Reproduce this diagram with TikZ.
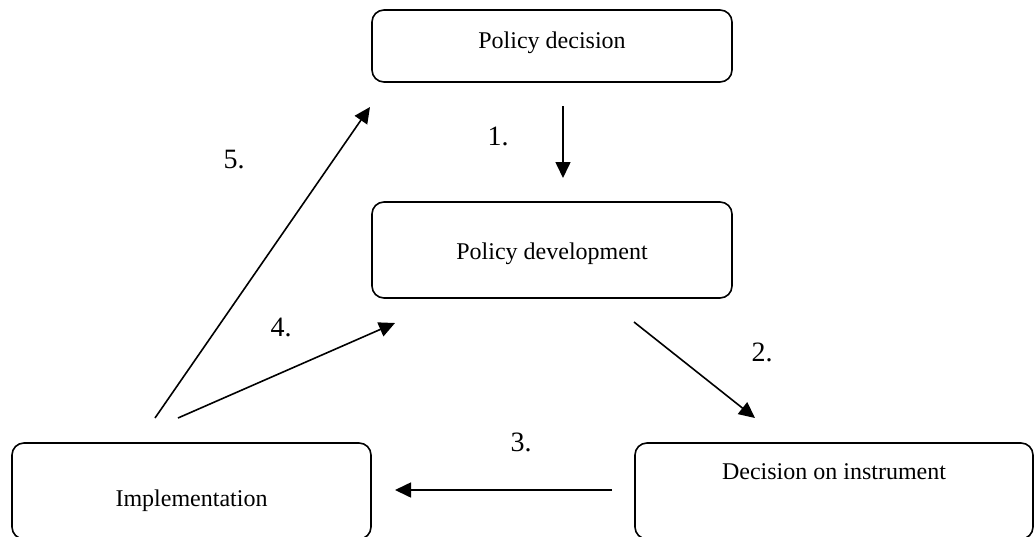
\documentclass[tikz,border=0pt]{standalone}
\usepackage{fontspec}
\setmainfont{Liberation Serif}
\usetikzlibrary{arrows.meta}
\begin{document}
\begin{tikzpicture}[x=1pt,y=-1pt,
  box/.style={draw, line width=1.6pt, rounded corners=12pt, inner sep=0pt, font=\fontsize{24}{28}\selectfont},
  num/.style={font=\fontsize{28}{32}\selectfont, inner sep=0pt},
  arr/.style={line width=1.6pt, -{Triangle[length=16pt,width=15pt]}}]
\useasboundingbox (0,0) rectangle (1034,536);
\node[box, minimum width=360pt, minimum height=72pt, text height=4pt, text depth=0pt] (pd) at (552,46) {Policy decision};
\node[box, minimum width=360pt, minimum height=96pt, text height=18pt, text depth=0pt] (pdev) at (552,250) {Policy development};
\node[box, minimum width=359pt, minimum height=96pt, text height=30pt, text depth=0pt] (impl) at (191.5,491) {Implementation};
\node[box, minimum width=398pt, minimum height=96pt, text height=0pt, text depth=24pt] (dec) at (834,491) {Decision on instrument};
% arrow end points
\coordinate (a1s) at (563,106); \coordinate (a1e) at (563,178);
\coordinate (a2s) at (634,322); \coordinate (a2e) at (755,418);
\coordinate (a3s) at (612,490); \coordinate (a3e) at (395,490);
\coordinate (a4s) at (178,418); \coordinate (a4e) at (395,323);
\coordinate (a5s) at (155,418); \coordinate (a5e) at (370,107);
\draw[arr] (a1s) -- (a1e);
\draw[arr] (a2s) -- (a2e);
\draw[arr] (a3s) -- (a3e);
\draw[arr] (a4s) -- (a4e);
\draw[arr] (a5s) -- (a5e);
\node[num] (l1) at (498,136) {1.};
\node[num] (l2) at (762,352) {2.};
\node[num] (l3) at (521,442) {3.};
\node[num] (l4) at (281,327) {4.};
\node[num] (l5) at (234,160) {5.};
\end{tikzpicture}
\end{document}
